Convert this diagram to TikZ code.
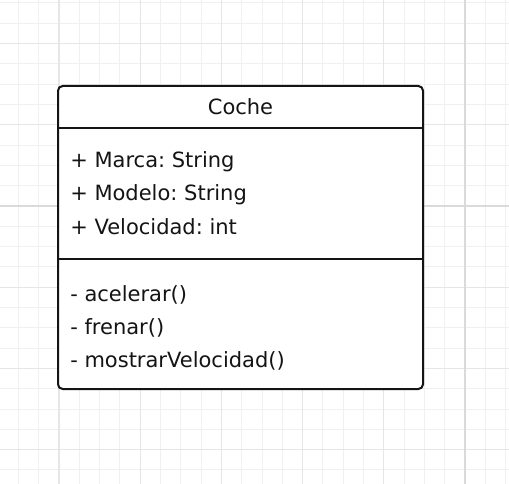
\documentclass[tikz,border=0pt]{standalone}
\usepackage{fontspec}
\setmainfont{DejaVu Sans}
\usetikzlibrary{calc}
\frenchspacing
\definecolor{gridfine}{HTML}{F0F0F0}
\definecolor{gridmid}{HTML}{E6E6E6}
\definecolor{gridmaj}{HTML}{DADADA}
\definecolor{ink}{HTML}{141414}
\tikzset{
  member/.style={anchor=base west, inner sep=0, text=ink, font=\fontsize{15.75}{19}\selectfont},
  classline/.style={ink, line width=1.5pt},
}
\begin{document}
\begin{tikzpicture}[x=0.75pt,y=-0.75pt]
\useasboundingbox (0,0) rectangle (509,484);
\fill[white] (0,0) rectangle (509,484);
\foreach \k in {-2,...,23} \draw[gridfine,line width=0.75pt] ({465-20.3*\k},0)--({465-20.3*\k},484);
\foreach \k in {-11,...,14} \draw[gridfine,line width=0.75pt] (0,{206+20.3*\k})--(509,{206+20.3*\k});
\foreach \k in {-4,0,4,8,12,16,20} \draw[gridmid,line width=0.9pt] ({465-20.3*\k},0)--({465-20.3*\k},484);
\foreach \k in {-12,-8,-4,0,4,8,12} \draw[gridmid,line width=0.9pt] (0,{206+20.3*\k})--(509,{206+20.3*\k});
\draw[gridmaj,line width=1.1pt] (465,0)--(465,484);
\draw[gridmaj,line width=1.1pt] (0,206)--(509,206);
\coordinate(TL) at (58,86);
\coordinate(BR) at (423,389);
\coordinate(H1) at (58,128);
\coordinate(H2) at (423,128);
\coordinate(M1) at (58,259);
\coordinate(M2) at (423,259);
\draw[classline,fill=white,rounded corners=3.5pt] (TL) rectangle (BR);
\draw[classline] (H1)--(H2);
\draw[classline] (M1)--(M2);
\node[member,anchor=base] (name) at (240.5,115) {Coche};
\node[member] (attr1) at (70,168) {+ Marca: String};
\node[member] (attr2) at (70,201) {+ Modelo: String};
\node[member] (attr3) at (70,234) {+ Velocidad: int};
\node[member] (op1) at (70,301) {- acelerar()};
\node[member] (op2) at (70,334) {- frenar()};
\node[member] (op3) at (70,367) {- mostrarVelocidad()};
\end{tikzpicture}
\end{document}
